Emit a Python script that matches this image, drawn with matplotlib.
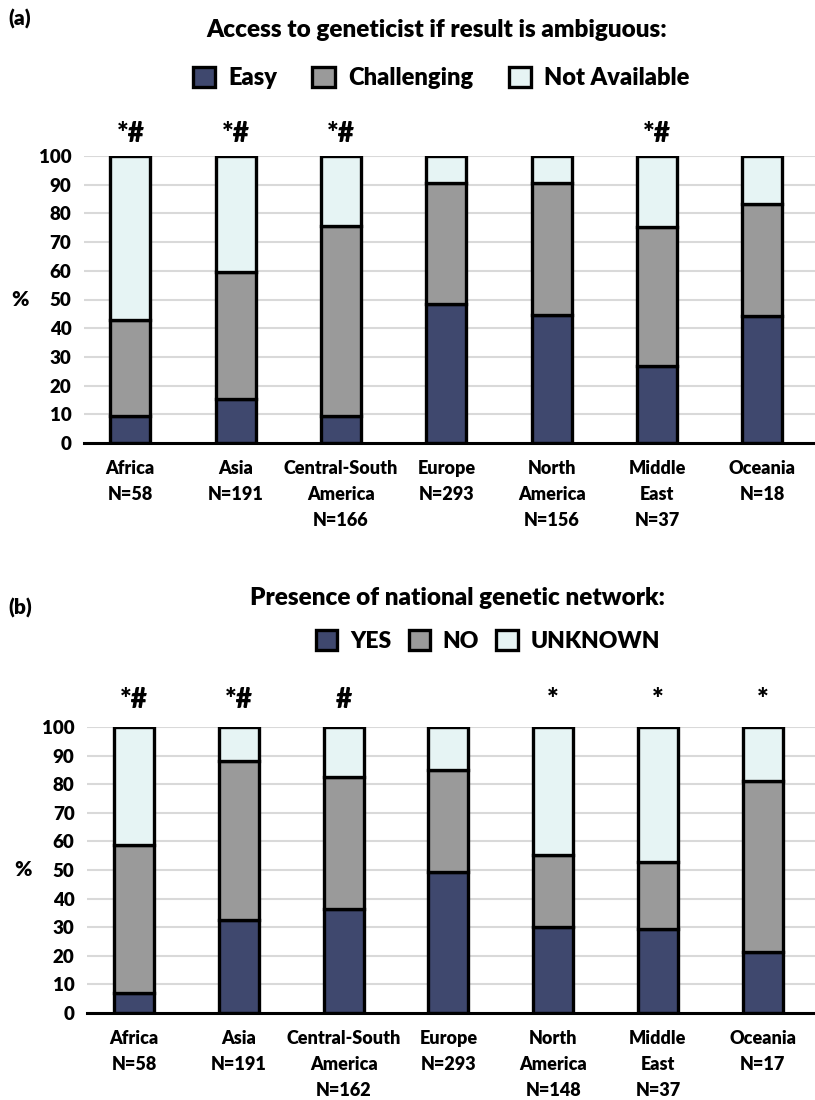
import matplotlib
matplotlib.use("Agg")
import matplotlib.pyplot as plt
from matplotlib.patches import Patch
import numpy as np

plt.rcParams['font.family'] = ['Lato', 'DejaVu Sans']
FW = "heavy"
plt.rcParams['font.weight'] = FW

# ---- data ----
cats_a = ["Africa\nN=58", "Asia\nN=191", "Central-South\nAmerica\nN=166", "Europe\nN=293",
          "North\nAmerica\nN=156", "Middle\nEast\nN=37", "Oceania\nN=18"]
easy = [9.5, 15.5, 9.5, 48.5, 44.7, 27.0, 44.4]
challenging = [33.5, 44.2, 66.1, 42.0, 45.8, 48.4, 38.9]
not_avail = [57.0, 40.3, 24.4, 9.5, 9.5, 24.6, 16.7]
marks_a = ["*#", "*#", "*#", "", "", "*#", ""]
legend_a = ["Easy", "Challenging", "Not Available"]
title_a = "Access to geneticist if result is ambiguous:"

cats_b = ["Africa\nN=58", "Asia\nN=191", "Central-South\nAmerica\nN=162", "Europe\nN=293",
          "North\nAmerica\nN=148", "Middle\nEast\nN=37", "Oceania\nN=17"]
yes = [6.9, 32.6, 36.3, 49.2, 30.0, 29.4, 21.2]
no = [51.7, 55.4, 46.3, 35.7, 25.3, 23.5, 59.8]
unknown = [41.4, 12.0, 17.4, 15.1, 44.7, 47.1, 19.0]
marks_b = ["*#", "*#", "#", "", "*", "*", "*"]
legend_b = ["YES", "NO", "UNKNOWN"]
title_b = "Presence of national genetic network:"

colors = ["#3F486E", "#9A9A9A", "#E6F4F4"]
W, H = 815, 1100
fig = plt.figure(figsize=(W / 100, H / 100), dpi=100)


def panel(rect, cats, series, marks, xleft, mark_y):
    ax = fig.add_axes(rect)
    x = np.arange(len(cats))
    bottom = np.zeros(len(cats))
    for vals, c in zip(series, colors):
        ax.bar(x, vals, width=0.38, bottom=bottom, color=c, edgecolor="black",
               linewidth=2.4, zorder=3)
        bottom += np.array(vals)
    ax.set_ylim(0, 100)
    ax.set_xlim(xleft, len(cats) - 0.5)
    ax.set_yticks(np.arange(0, 101, 10))
    ax.yaxis.grid(True, color="#D9D9D9", linewidth=1.5, zorder=0)
    ax.set_axisbelow(True)
    for s in ["top", "right", "left"]:
        ax.spines[s].set_visible(False)
    ax.spines["bottom"].set_linewidth(2.2)
    ax.spines["bottom"].set_zorder(4)
    ax.tick_params(axis="y", length=0, pad=9, labelsize=13.5)
    ax.tick_params(axis="x", length=0, pad=12, labelsize=13)
    ax.set_xticks(x)
    ax.set_xticklabels(cats, linespacing=1.65, va="top")
    for lab in ax.get_yticklabels() + ax.get_xticklabels():
        lab.set_fontweight(FW)
    for xi, m in zip(x, marks):
        if m:
            ax.text(xi, mark_y, m, ha="center", va="center", fontsize=20,
                    fontweight=FW, clip_on=False)
    ax.set_ylabel("%", rotation=0, fontsize=15, fontweight=FW, va="center")
    ax.yaxis.set_label_coords(-0.088, 0.5)
    return ax


ax1 = panel([84 / W, 1 - 443 / H, (W - 84) / W, 287 / H], cats_a,
            [easy, challenging, not_avail], marks_a, -0.44, 107.5)
ax2 = panel([87 / W, 1 - 1013 / H, (W - 87) / W, 286 / H], cats_b,
            [yes, no, unknown], marks_b, -0.45, 109.5)

fig.text(8 / W, 1 - 19 / H, "(a)", fontsize=15, fontweight=FW, va="center")
fig.text(8 / W, 1 - 608 / H, "(b)", fontsize=15, fontweight=FW, va="center")
fig.text(437 / W, 1 - 30 / H, title_a, fontsize=17.5, fontweight=FW,
         ha="center", va="center")
fig.text(458 / W, 1 - 598 / H, title_b, fontsize=17.5, fontweight=FW,
         ha="center", va="center")


def legend(labels, cx, cy, colsp, size):
    handles = [Patch(facecolor=c, edgecolor="black", linewidth=2.4) for c in colors]
    fig.legend(handles, labels, loc="center", bbox_to_anchor=(cx / W, 1 - cy / H),
               ncol=3, frameon=False, handlelength=0.95, handleheight=0.95,
               handletextpad=0.55, columnspacing=colsp, borderpad=0,
               prop={"weight": FW, "size": size})


legend(legend_a, 441, 78, 1.5, 17)
legend(legend_b, 488, 641, 0.75, 16.5)

fig.savefig("out.png", dpi=100)
